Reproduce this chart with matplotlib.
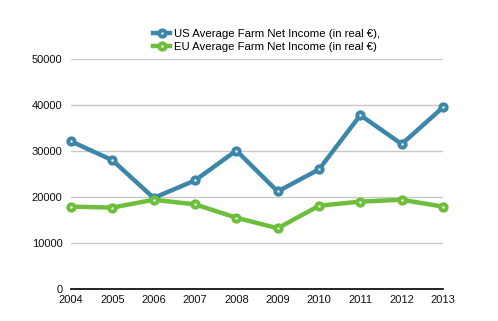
import matplotlib.pyplot as plt

plt.rcParams['font.family'] = ['Liberation Sans', 'DejaVu Sans']

years = [2004, 2005, 2006, 2007, 2008, 2009, 2010, 2011, 2012, 2013]
us_income = [32100, 28000, 19800, 23600, 30100, 21200, 26000, 37800, 31500, 39500]
eu_income = [17900, 17700, 19400, 18400, 15500, 13200, 18100, 19000, 19400, 17900]
us_label = 'US Average Farm Net Income (in real €),'
eu_label = 'EU Average Farm Net Income (in real €)'

us_color = '#3c87a9'
eu_color = '#6dbf3b'

fig = plt.figure(figsize=(4.98, 3.21), dpi=100)
ax = fig.add_axes([0.1426, 0.0997, 0.7470, 0.7165])

for vals, color, label in [(us_income, us_color, us_label), (eu_income, eu_color, eu_label)]:
    ax.plot(years, vals, color=color, lw=3.2, marker='o', markersize=4.6,
            markerfacecolor='white', markeredgecolor=color, markeredgewidth=2.8,
            label=label, zorder=3, solid_joinstyle='round', clip_on=False)

ax.set_xlim(2004, 2013)
ax.set_ylim(0, 50000)
ax.set_xticks(years)
ax.set_yticks(range(0, 50001, 10000))
ax.tick_params(length=0, labelsize=8, colors='#111111')
ax.tick_params(axis='y', pad=6)
ax.tick_params(axis='x', pad=4)
ax.grid(axis='y', color='#c8c8c8', lw=1)
ax.set_axisbelow(True)
for s in ['top', 'right', 'left']:
    ax.spines[s].set_visible(False)
ax.spines['bottom'].set_color('black')
ax.spines['bottom'].set_linewidth(1.2)

fig.legend(loc='center', bbox_to_anchor=(0.536, 0.875), frameon=False, fontsize=8.2,
           handlelength=1.5, handletextpad=0.35, labelspacing=0.25, borderpad=0)

fig.savefig('out.png', dpi=100)
